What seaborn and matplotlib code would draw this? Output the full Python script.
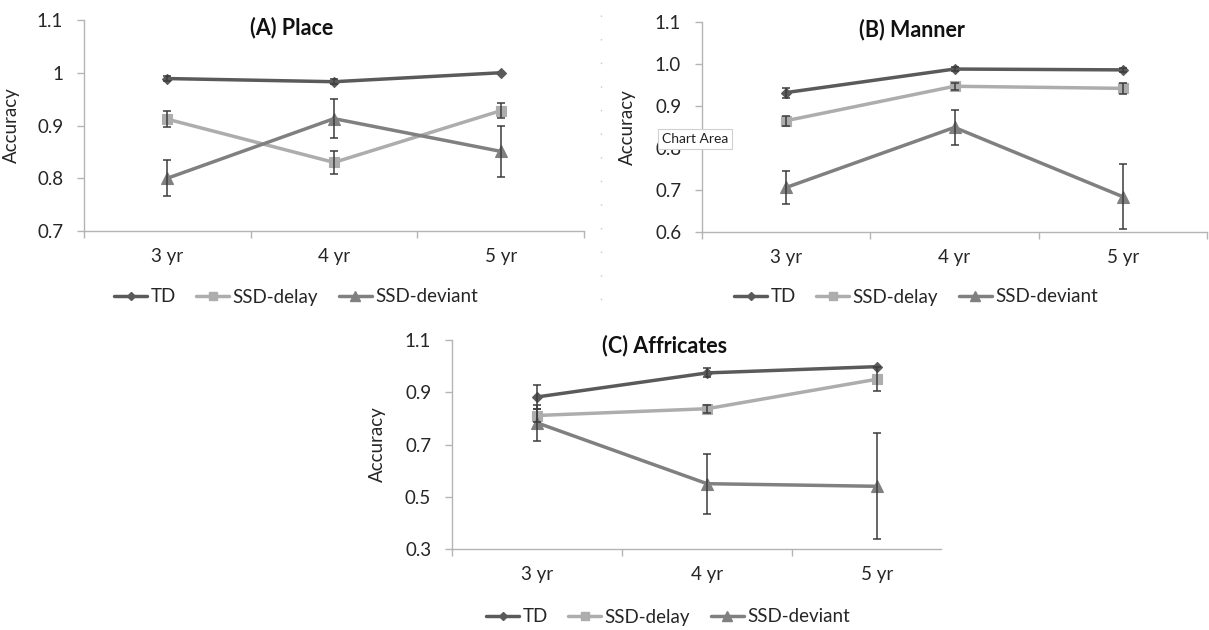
import numpy as np
import pandas as pd
import matplotlib
matplotlib.use("Agg")
import matplotlib.pyplot as plt
import seaborn as sns
from matplotlib.lines import Line2D

# ---------------- data ----------------
ages = ["3 yr", "4 yr", "5 yr"]
groups = ["TD", "SSD-delay", "SSD-deviant"]

place_td = [0.989, 0.983, 1.000]
place_td_err = [0.004, 0.005, 0.0]
place_delay = [0.912, 0.830, 0.928]
place_delay_err = [0.015, 0.022, 0.014]
place_deviant = [0.800, 0.913, 0.851]
place_deviant_err = [0.034, 0.037, 0.048]

manner_td = [0.932, 0.988, 0.986]
manner_td_err = [0.012, 0.004, 0.004]
manner_delay = [0.865, 0.947, 0.942]
manner_delay_err = [0.012, 0.008, 0.013]
manner_deviant = [0.706, 0.849, 0.684]
manner_deviant_err = [0.040, 0.042, 0.078]

affr_td = [0.882, 0.974, 0.998]
affr_td_err = [0.045, 0.017, 0.0]
affr_delay = [0.811, 0.837, 0.950]
affr_delay_err = [0.025, 0.015, 0.045]
affr_deviant = [0.783, 0.550, 0.540]
affr_deviant_err = [0.070, 0.115, 0.203]

titles = ["(A) Place", "(B) Manner", "(C) Affricates"]
place_yticks = [0.7, 0.8, 0.9, 1.0, 1.1]
place_ylabels = ["0.7", "0.8", "0.9", "1", "1.1"]
manner_yticks = [0.6, 0.7, 0.8, 0.9, 1.0, 1.1]
manner_ylabels = ["0.6", "0.7", "0.8", "0.9", "1.0", "1.1"]
affr_yticks = [0.3, 0.5, 0.7, 0.9, 1.1]
affr_ylabels = ["0.3", "0.5", "0.7", "0.9", "1.1"]

# ---------------- style ----------------
sns.set_style("white")
plt.rcParams["font.family"] = ["Lato", "DejaVu Sans"]

W, H = 1209, 630
fig = plt.figure(figsize=(W / 100, H / 100), dpi=100)

def fx(px):
    return px / W

def fy(py):
    return 1 - py / H

colors = {"TD": "#5a5a5a", "SSD-delay": "#adadad", "SSD-deviant": "#808080"}
markers = {"TD": "D", "SSD-delay": "s", "SSD-deviant": "^"}
msizes = {"TD": 5.2, "SSD-delay": 7.2, "SSD-deviant": 8.8}
spine_c = "#b4b4b4"
text_c = "#262626"
FS = 13.5

panels = [
    dict(box=(84, 20, 584, 231), xmax=2.5, ylim=(0.7, 1.1),
         yt=place_yticks, yl=place_ylabels,
         series=[place_td, place_delay, place_deviant],
         errs=[place_td_err, place_delay_err, place_deviant_err],
         title=titles[0], title_xy=(292, 28), ylab_x=20, leg_xy=(296, 297)),
    dict(box=(702, 22, 1207, 232), xmax=2.5, ylim=(0.6, 1.1),
         yt=manner_yticks, yl=manner_ylabels,
         series=[manner_td, manner_delay, manner_deviant],
         errs=[manner_td_err, manner_delay_err, manner_deviant_err],
         title=titles[1], title_xy=(912, 30), ylab_x=636, leg_xy=(916, 297)),
    dict(box=(452, 340, 941, 549), xmax=2.376, ylim=(0.3, 1.1),
         yt=affr_yticks, yl=affr_ylabels,
         series=[affr_td, affr_delay, affr_deviant],
         errs=[affr_td_err, affr_delay_err, affr_deviant_err],
         title=titles[2], title_xy=(665, 346), ylab_x=386, leg_xy=(668, 617)),
]

xpos = np.arange(len(ages))

for p in panels:
    l, t, r, b = p["box"]
    ax = fig.add_axes([fx(l), fy(b), fx(r - l), (b - t) / H])
    for g, vals, errs in zip(groups, p["series"], p["errs"]):
        df = pd.DataFrame({"age": xpos, "acc": vals})
        sns.lineplot(data=df, x="age", y="acc", ax=ax, color=colors[g],
                     marker=markers[g], markersize=msizes[g],
                     markeredgecolor=colors[g], markeredgewidth=0.8,
                     linewidth=2.5, label=g, legend=False, zorder=3)
        ex = [x for x, e in zip(xpos, errs) if e > 0]
        ey = [v for v, e in zip(vals, errs) if e > 0]
        ee = [e for e in errs if e > 0]
        ax.errorbar(ex, ey, yerr=ee, fmt="none", ecolor="#3c3c3c",
                    elinewidth=1.1, capsize=2.8, capthick=1.1, zorder=5)

    ax.set_xlim(-0.5, p["xmax"])
    ax.set_ylim(*p["ylim"])
    ax.set_xticks(xpos)
    ax.set_xticklabels(ages)
    ax.set_xticks([-0.5, 0.5, 1.5, 2.5][: 4 if p["xmax"] >= 2.5 else 3], minor=True)
    ax.set_yticks(p["yt"])
    ax.set_yticklabels(p["yl"])
    ax.tick_params(axis="x", which="major", length=0, pad=12,
                   labelsize=FS, labelcolor=text_c)
    ax.tick_params(axis="x", which="minor", length=5, width=1,
                   color=spine_c, direction="out", bottom=True)
    ax.tick_params(axis="y", which="major", length=5, width=1,
                   color=spine_c, direction="out", pad=10, left=True,
                   labelsize=FS, labelcolor=text_c)
    for s in ["top", "right"]:
        ax.spines[s].set_visible(False)
    for s in ["left", "bottom"]:
        ax.spines[s].set_color(spine_c)
        ax.spines[s].set_linewidth(1.0)
    ax.set_xlabel("")
    ax.set_ylabel("Accuracy", fontsize=FS, color=text_c)
    ax.yaxis.set_label_coords((p["ylab_x"] - l) / (r - l), 0.5)
    ax.grid(False)
    ax.patch.set_alpha(0)

    fig.text(fx(p["title_xy"][0]), fy(p["title_xy"][1]), p["title"],
             ha="center", va="center", fontsize=15.5, fontweight="bold",
             color="#111111")

    handles = [Line2D([0], [0], color=colors[g], lw=2.5, marker=markers[g],
                      markersize=msizes[g] * 0.85, markeredgecolor=colors[g])
               for g in groups]
    ax.legend(handles, groups, loc="center",
              bbox_to_anchor=(fx(p["leg_xy"][0]), fy(p["leg_xy"][1])),
              bbox_transform=fig.transFigure, ncol=3, frameon=False,
              fontsize=FS, handlelength=1.75, handletextpad=0.18,
              columnspacing=1.1, labelcolor=text_c)

# dotted chart-area border between the two top charts
fig.add_artist(Line2D([fx(601), fx(601)], [fy(15), fy(305)], color="#c8c8c8",
                      lw=1.0, linestyle=(0, (1, 16))))

# "Chart Area" tooltip seen in the screenshot
fig.text(fx(662), fy(139), "Chart Area", ha="left", va="center", fontsize=10,
         color="#222222", zorder=20,
         bbox=dict(boxstyle="square,pad=0.3", facecolor="white",
                   edgecolor="#d0d0d0", linewidth=0.8))

fig.savefig("out.png", dpi=100)
